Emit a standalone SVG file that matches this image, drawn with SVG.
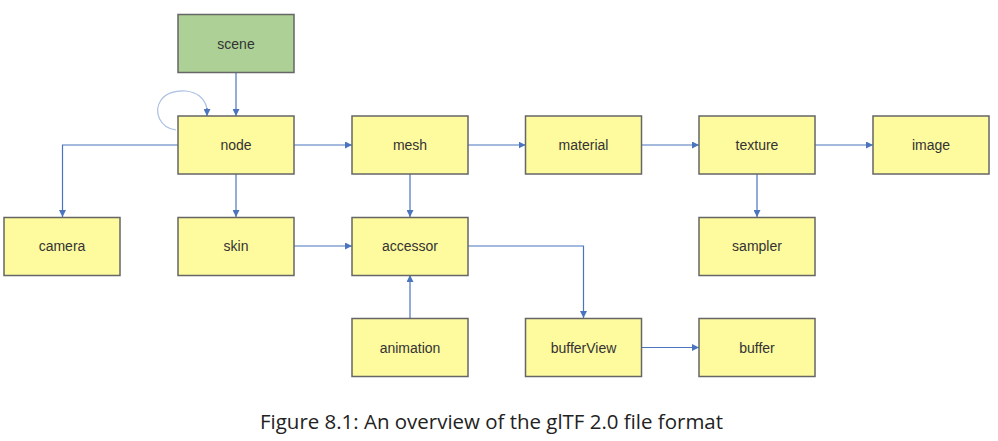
<svg xmlns="http://www.w3.org/2000/svg" width="998" height="441" viewBox="0 0 998 441">
<style>
.box{fill:#fefa9e;stroke:#666;stroke-width:1.5}
.green{fill:#acd095;stroke:#666;stroke-width:1.5}
.lbl{font-family:"Liberation Sans",Arial,sans-serif;font-size:14px;fill:#333;text-anchor:middle}
.ln{fill:none;stroke:#4a74bd;stroke-width:1.2;marker-end:url(#ah)}
.loop{fill:none;stroke:#aabfe3;stroke-width:1.2}
.cap{font-family:"Open Sans","Noto Sans",sans-serif;font-size:19.5px;fill:#222}
</style>
<defs>
<marker id="ah" viewBox="0 0 10 10" refX="10" refY="5" markerWidth="7" markerHeight="7" markerUnits="userSpaceOnUse" orient="auto">
<path d="M0,0 L10,5 L0,10 z" fill="#4a74bd"/>
</marker>
</defs>
<rect width="998" height="441" fill="#fff"/>
<g id="connectors">
<path class="ln" d="M236,72 V116"/>
<path class="loop" d="M176,130 C160,128 153,112 161,100 C170,87 203,86 207,109"/>
<path class="ln" d="M207,108 V116"/>
<path class="ln" d="M178,145 H62.5 V217"/>
<path class="ln" d="M236,174 V217"/>
<path class="ln" d="M294,145 H352"/>
<path class="ln" d="M468,145 H525.5"/>
<path class="ln" d="M641.5,145 H699"/>
<path class="ln" d="M815,145 H873"/>
<path class="ln" d="M757,174 V217"/>
<path class="ln" d="M410,174 V217"/>
<path class="ln" d="M294,246 H352"/>
<path class="ln" d="M410,318 V275"/>
<path class="ln" d="M468,246 H583.5 V318"/>
<path class="ln" d="M641.5,347.5 H699"/>
</g>
<g id="scene"><rect class="green" x="178" y="14.5" width="116" height="58"/><text class="lbl" x="236" y="48.5">scene</text></g>
<g id="node"><rect class="box" x="178" y="116" width="116" height="58"/><text class="lbl" x="236" y="150">node</text></g>
<g id="mesh"><rect class="box" x="352" y="116" width="116" height="58"/><text class="lbl" x="410" y="150">mesh</text></g>
<g id="material"><rect class="box" x="525.5" y="116" width="116" height="58"/><text class="lbl" x="583.5" y="150">material</text></g>
<g id="texture"><rect class="box" x="699" y="116" width="116" height="58"/><text class="lbl" x="757" y="150">texture</text></g>
<g id="image"><rect class="box" x="873" y="116" width="116" height="58"/><text class="lbl" x="931" y="150">image</text></g>
<g id="camera"><rect class="box" x="4" y="217.5" width="116" height="58"/><text class="lbl" x="62" y="251">camera</text></g>
<g id="skin"><rect class="box" x="178" y="217.5" width="116" height="58"/><text class="lbl" x="236" y="251">skin</text></g>
<g id="accessor"><rect class="box" x="352" y="217.5" width="116" height="58"/><text class="lbl" x="410" y="251">accessor</text></g>
<g id="sampler"><rect class="box" x="699" y="217.5" width="116" height="58"/><text class="lbl" x="757" y="251">sampler</text></g>
<g id="animation"><rect class="box" x="352" y="318.5" width="116" height="58"/><text class="lbl" x="410" y="352.5">animation</text></g>
<g id="bufferView"><rect class="box" x="525.5" y="318.5" width="116" height="58"/><text class="lbl" x="583.5" y="352.5">bufferView</text></g>
<g id="buffer"><rect class="box" x="699" y="318.5" width="116" height="58"/><text class="lbl" x="757" y="352.5">buffer</text></g>
<text class="cap" x="260" y="429" textLength="463" lengthAdjust="spacingAndGlyphs">Figure 8.1: An overview of the glTF 2.0 file format</text>
</svg>
